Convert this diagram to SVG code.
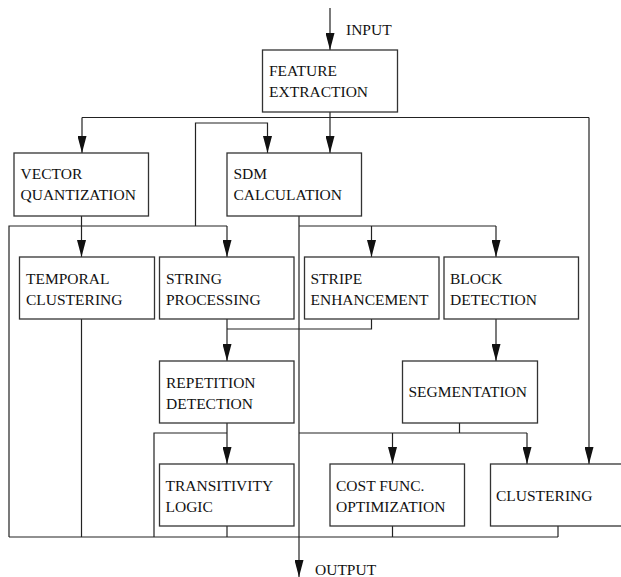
<svg xmlns="http://www.w3.org/2000/svg" width="621" height="577" viewBox="0 0 621 577">
<style>
.box{fill:#fff;stroke:#333;stroke-width:1.3}
.t{font-family:"Liberation Serif","Times New Roman",serif;font-size:15.5px;fill:#111}
.c{fill:none;stroke:#222;stroke-width:1.2}
.a{marker-end:url(#arr)}
</style>
<defs>
<marker id="arr" markerUnits="userSpaceOnUse" viewBox="0 0 17 9" refX="17" refY="4.5" markerWidth="17" markerHeight="9" orient="auto">
<path d="M0,0 L17,4.5 L0,9 z" fill="#111"/>
</marker>
</defs>
<rect width="621" height="577" fill="#fff"/>
<g id="connectors">
<path class="c a" d="M330,8 V50"/>
<path class="c a" d="M330,112 V153"/>
<path class="c" d="M82,117.5 H589"/>
<path class="c a" d="M82,117.5 V153"/>
<path class="c a" d="M589,117.5 V464"/>
<path class="c a" d="M195.5,226 V123 H267.5 V153"/>
<path class="c a" d="M81.5,216 V257"/>
<path class="c" d="M9,537 V226 H227"/>
<path class="c a" d="M227,226 V257"/>
<path class="c a" d="M299,216 V577"/>
<path class="c" d="M299,226 H496"/>
<path class="c a" d="M371.5,226 V257"/>
<path class="c a" d="M496,226 V257"/>
<path class="c" d="M81.5,319 V537"/>
<path class="c a" d="M227,319 V361"/>
<path class="c" d="M227,329 H371.5 V319"/>
<path class="c a" d="M496,319 V361"/>
<path class="c a" d="M227,423 V464"/>
<path class="c" d="M154,537 V433 H227"/>
<path class="c" d="M459.5,423 V433"/>
<path class="c" d="M299,433 H527"/>
<path class="c a" d="M392.5,433 V464"/>
<path class="c a" d="M527,433 V464"/>
<path class="c" d="M9,537 H558"/>
<path class="c" d="M227,526 V537"/>
<path class="c" d="M392.5,526 V537"/>
<path class="c" d="M558,526 V537"/>
</g>
<text class="t" x="346" y="35">INPUT</text>
<text class="t" x="315" y="575">OUTPUT</text>
<g id="feature"><rect class="box" x="262.5" y="50" width="135" height="62"/><text class="t" x="269" y="76">FEATURE</text><text class="t" x="269" y="97">EXTRACTION</text></g>
<g id="vq"><rect class="box" x="14" y="153" width="134.5" height="63"/><text class="t" x="20.5" y="179">VECTOR</text><text class="t" x="20.5" y="200">QUANTIZATION</text></g>
<g id="sdm"><rect class="box" x="227" y="153" width="134.5" height="63"/><text class="t" x="233.5" y="179">SDM</text><text class="t" x="233.5" y="200">CALCULATION</text></g>
<g id="temporal"><rect class="box" x="19.5" y="257" width="135" height="62"/><text class="t" x="26" y="284">TEMPORAL</text><text class="t" x="26" y="304.5">CLUSTERING</text></g>
<g id="string"><rect class="box" x="159.5" y="257" width="134.5" height="62"/><text class="t" x="166" y="284">STRING</text><text class="t" x="166" y="304.5">PROCESSING</text></g>
<g id="stripe"><rect class="box" x="304.5" y="257" width="134.5" height="62"/><text class="t" x="310.5" y="284">STRIPE</text><text class="t" x="310.5" y="304.5">ENHANCEMENT</text></g>
<g id="block"><rect class="box" x="444" y="257" width="134.5" height="62"/><text class="t" x="450" y="284">BLOCK</text><text class="t" x="450" y="304.5">DETECTION</text></g>
<g id="repetition"><rect class="box" x="159.5" y="361" width="134.5" height="62"/><text class="t" x="166" y="388">REPETITION</text><text class="t" x="166" y="408.5">DETECTION</text></g>
<g id="segmentation"><rect class="box" x="402.5" y="361" width="135" height="62"/><text class="t" x="408.5" y="397">SEGMENTATION</text></g>
<g id="transitivity"><rect class="box" x="159.5" y="464" width="134.5" height="62"/><text class="t" x="165.5" y="491">TRANSITIVITY</text><text class="t" x="165.5" y="511.5">LOGIC</text></g>
<g id="cost"><rect class="box" x="330" y="464" width="134.5" height="62"/><text class="t" x="336" y="491">COST FUNC.</text><text class="t" x="336" y="511.5">OPTIMIZATION</text></g>
<g id="clustering"><rect class="box" x="490.5" y="464" width="135" height="62"/><text class="t" x="496" y="501">CLUSTERING</text></g>
</svg>
